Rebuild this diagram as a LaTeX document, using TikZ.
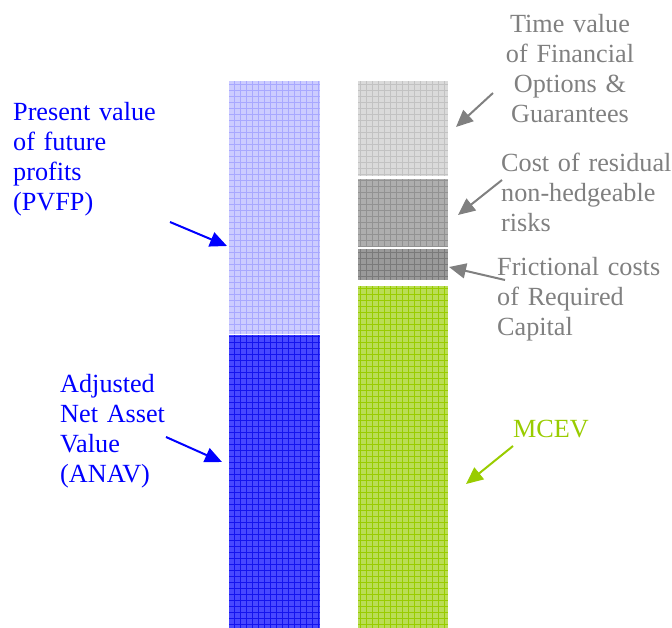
\documentclass[tikz,border=0pt]{standalone}
\usepackage{fontspec}
\setmainfont{Liberation Serif}
\usetikzlibrary{arrows.meta}

\definecolor{pvfpbg}{HTML}{CCCCFF}
\definecolor{pvfpln}{HTML}{A8A8FF}
\definecolor{anavbg}{HTML}{4848FF}
\definecolor{anavln}{HTML}{1414EE}
\definecolor{tvogbg}{HTML}{DADADA}
\definecolor{tvogln}{HTML}{C2C2C2}
\definecolor{crnrbg}{HTML}{AEAEAE}
\definecolor{crnrln}{HTML}{929292}
\definecolor{fcrcbg}{HTML}{9A9A9A}
\definecolor{fcrcln}{HTML}{7A7A7A}
\definecolor{mcevbg}{HTML}{BADD55}
\definecolor{mcevgreen}{HTML}{99CC00}
\definecolor{labelgray}{HTML}{808080}

\begin{document}
\begin{tikzpicture}[x=1pt,y=-1pt,
    label/.style={inner sep=0pt, text width=200pt, font=\fontsize{26.2}{30}\selectfont},
    pointer/.style={line width=2pt, -{Triangle[length=17pt,width=15pt]}}]

    \useasboundingbox (0,0) rectangle (672,628);

    % Left bar: PVFP on top of ANAV
    \fill[pvfpbg] (229,81) rectangle (320,334);
    \draw[pvfpln, line width=0.8pt, step=6pt] (229,81) grid (320,334);
    \fill[anavbg] (229,335) rectangle (320,628);
    \draw[anavln, line width=0.8pt, step=6pt] (229,335) grid (320,628);

    % Right bar: TVFOG, CRNHR, FCRC and MCEV
    \fill[tvogbg] (358,81) rectangle (448,176);
    \draw[tvogln, line width=0.8pt, step=6pt] (358,81) grid (448,176);
    \fill[crnrbg] (358,179) rectangle (448,246);
    \draw[crnrln, line width=0.8pt, step=6pt] (358,179) grid (448,246);
    \fill[fcrcbg] (358,249) rectangle (448,280);
    \draw[fcrcln, line width=0.8pt, step=6pt] (358,249) grid (448,280);
    \fill[mcevbg] (358,286) rectangle (448,628);
    \draw[mcevgreen, line width=0.8pt, step=6pt] (358,286) grid (448,628);

    % Labels
    \node[label, blue, anchor=base west] (pvfp) at (13,121)
        {Present value\\of future\\profits\\(PVFP)};
    \node[label, blue, anchor=base west] (anav) at (60,392)
        {Adjusted\\Net Asset\\Value\\(ANAV)};
    \node[label, labelgray, anchor=base, align=center] (tvog) at (570,33)
        {Time value\\of Financial\\Options \&\\Guarantees};
    \node[label, labelgray, anchor=base west] (crnhr) at (501,172)
        {Cost of residual\\non-hedgeable\\risks};
    \node[label, labelgray, anchor=base west] (fcrc) at (497,276)
        {Frictional costs\\of Required\\Capital};
    \node[label, mcevgreen, anchor=base west] (mcev) at (513,437) {MCEV};

    % Arrow ends
    \coordinate (pvfp-from) at (170,222);
    \coordinate (pvfp-to) at (227,246);
    \coordinate (anav-from) at (166,437);
    \coordinate (anav-to) at (222,462);
    \coordinate (tvog-from) at (493,93);
    \coordinate (tvog-to) at (456,127);
    \coordinate (crnhr-from) at (502,180);
    \coordinate (crnhr-to) at (458,215);
    \coordinate (fcrc-from) at (505,280);
    \coordinate (fcrc-to) at (449,267);
    \coordinate (mcev-from) at (513,446);
    \coordinate (mcev-to) at (466,484);

    % Arrows
    \draw[pointer, blue] (pvfp-from) -- (pvfp-to);
    \draw[pointer, blue] (anav-from) -- (anav-to);
    \draw[pointer, labelgray] (tvog-from) -- (tvog-to);
    \draw[pointer, labelgray] (crnhr-from) -- (crnhr-to);
    \draw[pointer, labelgray] (fcrc-from) -- (fcrc-to);
    \draw[pointer, mcevgreen] (mcev-from) -- (mcev-to);

\end{tikzpicture}
\end{document}
